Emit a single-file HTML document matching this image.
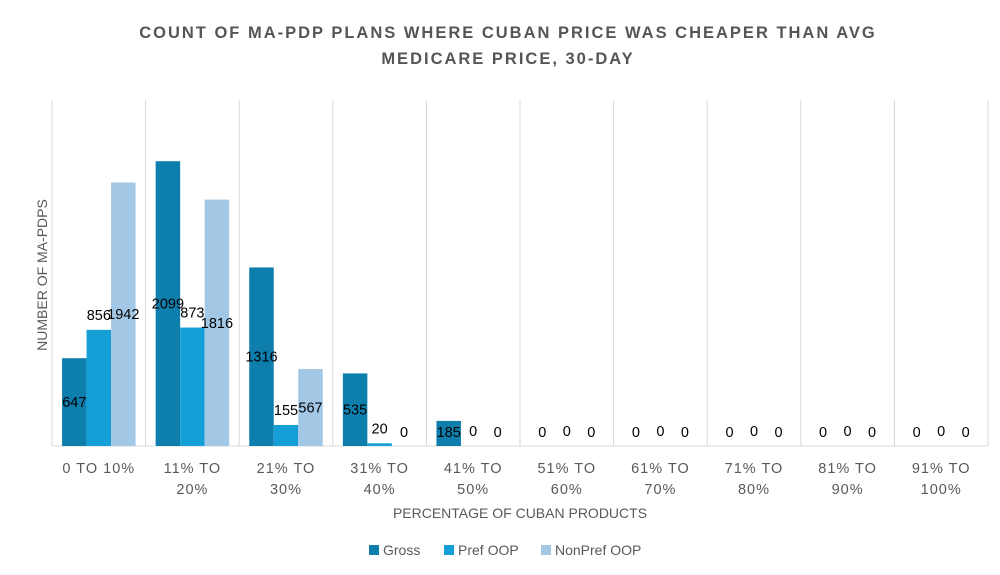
<!DOCTYPE html>
<html><head><meta charset="utf-8"><style>
body{margin:0;background:#fff;font-family:"Liberation Sans",sans-serif}
svg text{font-family:"Liberation Sans",sans-serif}
</style></head><body>
<svg id="chart" width="1000" height="570">
<text x="508" y="38" text-anchor="middle" font-size="16.5" font-weight="bold" fill="#555" letter-spacing="2">COUNT OF MA-PDP PLANS WHERE CUBAN PRICE WAS CHEAPER THAN AVG</text>
<text x="508" y="64" text-anchor="middle" font-size="16.5" font-weight="bold" fill="#555" letter-spacing="2">MEDICARE PRICE, 30-DAY</text>
<text transform="translate(47,275) rotate(-90)" text-anchor="middle" font-size="14" fill="#595959">NUMBER OF MA-PDPS</text>
<text x="520" y="518" text-anchor="middle" font-size="14" fill="#595959">PERCENTAGE OF CUBAN PRODUCTS</text>
<g id="grid"></g><g id="bars"></g><g id="labels"></g><g id="xticks"></g>
<g>
<rect x="369" y="545" width="10" height="10" fill="#0e7fad"/>
<text x="383" y="555" font-size="14" fill="#595959">Gross</text>
<rect x="444" y="545" width="10" height="10" fill="#14a0d6"/>
<text x="458" y="555" font-size="14" fill="#595959">Pref OOP</text>
<rect x="541" y="545" width="10" height="10" fill="#a3c8e6"/>
<text x="555" y="555" font-size="14" fill="#595959">NonPref OOP</text>
</g>
</svg>
<script>
const categories1 = ["0 TO 10%","11% TO","21% TO","31% TO","41% TO","51% TO","61% TO","71% TO","81% TO","91% TO"];
const categories2 = ["","20%","30%","40%","50%","60%","70%","80%","90%","100%"];
const gross = [647,2099,1316,535,185,0,0,0,0,0];
const prefOOP = [856,873,155,20,0,0,0,0,0,0];
const nonPrefOOP = [1942,1816,567,0,0,0,0,0,0,0];
const yMax = 2550;
const L=52, R=988, T=100, B=446;
const cw=(R-L)/categories1.length, bw=24.5;
const y=v=>B-(v/yMax)*(B-T);
const NS="http://www.w3.org/2000/svg";
const grid=document.getElementById('grid'), bars=document.getElementById('bars'), labels=document.getElementById('labels'), xt=document.getElementById('xticks');
function mk(tag,attrs,parent){const e=document.createElementNS(NS,tag);for(const k in attrs)e.setAttribute(k,attrs[k]);parent.appendChild(e);return e;}
for(let i=0;i<=categories1.length;i++){
  const g=mk('line',{x1:L+i*cw,x2:L+i*cw,y1:T,y2:B,stroke:'#d9d9d9','stroke-width':1},grid);
  
  
}
const base=mk('line',{x1:L,x2:R,y1:B,y2:B,stroke:'#d9d9d9','stroke-width':1},grid);


const series=[[gross,'#0e7fad','gross','center'],[prefOOP,'#14a0d6','pref-oop','outside'],[nonPrefOOP,'#a3c8e6','nonpref-oop','center']];
categories1.forEach((c,i)=>{
  const x0=L+i*cw+(cw-3*bw)/2;
  series.forEach((s,j)=>{
    const v=s[0][i], bx=x0+j*bw, by=y(v);
    const r=mk('rect',{x:bx,y:by,width:bw,height:B-by,fill:s[1]},bars);
    
    
    let ly = s[3]==='center' ? (by+B)/2 : by-15;
    ly=Math.min(ly,432);
    const t=mk('text',{x:bx+bw/2,y:ly+5,'text-anchor':'middle','font-size':14.5,fill:'#000'},labels);
    t.textContent=v;
    
    
  });
  const cx=L+i*cw+cw/2;
  const t1=mk('text',{x:cx,y:473,'text-anchor':'middle','font-size':14.5,fill:'#595959','letter-spacing':'1'},xt);
  t1.textContent=c;
  
  
  if(categories2[i]){
    const t2=mk('text',{x:cx,y:494,'text-anchor':'middle','font-size':14.5,fill:'#595959','letter-spacing':'1'},xt);
    t2.textContent=categories2[i];
    
    
  }
});
</script>
</body></html>
